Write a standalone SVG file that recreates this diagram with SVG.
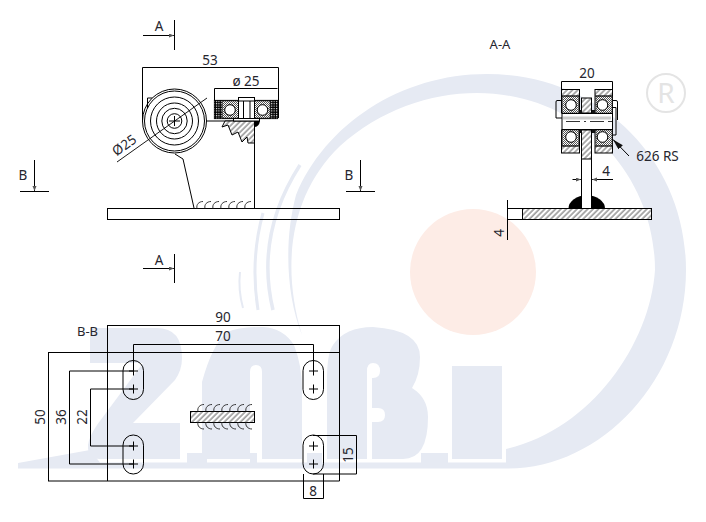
<svg xmlns="http://www.w3.org/2000/svg" width="706" height="522" viewBox="0 0 706 522">
<style>
.l{fill:none;stroke:#000;stroke-width:1}
.w{fill:#fff;stroke:#000;stroke-width:1}
.h{fill:url(#hatch);stroke:#000;stroke-width:1}
.s{fill:url(#stip);stroke:#333;stroke-width:.6}
text{font-family:"Noto Sans","Liberation Sans",sans-serif;font-size:13.500px;fill:#26262e;text-anchor:middle}
.bg{fill:#e6eaf3}
.arc{fill:none;stroke:#e6eaf3}
</style>
<defs>
<pattern id="hatch" width="3.800" height="3.800" patternUnits="userSpaceOnUse" patternTransform="rotate(45)"><rect width="3.800" height="3.800" fill="#fff"/><line x1="1" y1="0" x2="1" y2="3.800" stroke="#333" stroke-width=".8"/></pattern>
<pattern id="stip" width="2" height="2" patternUnits="userSpaceOnUse"><rect width="2" height="2" fill="#fff"/><rect width="1" height="1" fill="#555"/><rect x="1" y="1" width="1" height="1" fill="#555"/></pattern>
<pattern id="tire" width="2.400" height="2.400" patternUnits="userSpaceOnUse"><rect width="2.400" height="2.400" fill="#000"/><rect width="1.100" height="1.100" fill="#fff"/></pattern>
<marker id="a" markerWidth="6" markerHeight="6" refX="5" refY="2" orient="auto"><path d="M0,0L5,2L0,4Z" fill="#555"/></marker>
<marker id="big" markerWidth="12" markerHeight="8" refX="11" refY="3" orient="auto"><path d="M0,0L11,3L0,6Z" fill="#111"/></marker>
<path id="weld" d="M0,7C-1,3 2,0 6,0" fill="none" stroke="#222" stroke-width=".9"/>
</defs>

<g id="watermark">
<circle cx="473" cy="272" r="63" fill="#fdece6"/>
<path class="bg" d="M302,335C280,262 292,192 340,146C380,110 430,93 477,93C580,93 655,175 655,270C650,345 590,430 506,449V468.500C600,470 686,380 686,270C686,160 600,74 487,74C400,74 325,125 296,195C284,240 286,295 302,335Z"/>
<path class="bg" d="M18,463L90,450L100,462.500H506V468.500H18Z"/>
<path class="bg" d="M90,328H157Q182,328 182,358Q182,370 175,380L133,423H180V459H100Q87,459 88,445Q89,437 97,425L143,363H90Z"/>
<path class="bg" d="M202,459V382Q212,345 227,332Q240,327 263,327Q283,328 294,345Q302,365 302,390V459H262V372Q262,365 256,365Q250,365 250,372V459Z"/>
<path class="bg" d="M327,459V380Q327,353 333,345Q345,327 373,327Q420,330 420,357Q420,375 412,388Q428,398 428,417Q428,459 403,459H372V422H378Q385,422 385,415Q385,408 378,408H372V378H373Q380,378 380,371Q380,363 373,363Q367,363 367,371V459Z"/>
<rect class="bg" x="187" y="453" width="20" height="10"/>
<rect class="bg" x="250" y="453" width="7" height="10"/>
<rect class="bg" x="307" y="453" width="15" height="10"/>
<rect class="bg" x="421" y="453" width="27" height="10"/>
<rect class="bg" x="452" y="366" width="50" height="93"/>
<path class="arc" stroke-width="3.500" d="M300,165Q255,235 273,310"/>
<path class="arc" stroke-width="3" d="M263,213Q250,260 258,310"/>
<path class="arc" stroke-width="2" d="M240,272Q238,290 243,308"/>
<g id="registered"><circle cx="666" cy="93" r="19" fill="none" stroke="#e4e4e4" stroke-width="2"/><text x="666" y="103" style="font-size:28px;fill:#e4e4e4">R</text></g>
</g>

<g id="side-view">
<rect class="l" x="107.500" y="208.500" width="232" height="11"/>
<g class="l">
<circle cx="174.500" cy="121" r="32"/><circle cx="174.500" cy="121" r="30"/><circle cx="174.500" cy="121" r="24"/><circle cx="174.500" cy="121" r="18"/><circle cx="174.500" cy="121" r="12.700"/><circle cx="174.500" cy="121" r="7.300"/>
<path d="M147.500,108V98H152M175,154L183,159L194,208M207,121H233M254.500,127V208M169,121H180M174.500,116V126"/>
</g>
<path class="h" d="M225,121L222,127L228,125L232,135L238,132L242,142L247,137L248,143H254.500V121Z" stroke-width=".7"/>
<path d="M254,121H260Q259,127 254,127Z" fill="#000"/>
<g id="bearing">
<rect x="214.500" y="100.500" width="63" height="18" fill="#fff" stroke="#000" stroke-width="1.200"/>
<rect x="214.500" y="100.500" width="8" height="18" fill="url(#tire)"/>
<rect x="270" y="100.500" width="8" height="18" fill="url(#tire)"/>
<rect class="s" x="222.500" y="101" width="16" height="17"/><rect class="s" x="254.500" y="101" width="15.500" height="17"/>
<circle class="w" cx="230" cy="110" r="5.300"/><circle class="w" cx="262.500" cy="110" r="5.300"/>
<rect class="w" x="238.500" y="97.500" width="16" height="21"/>
<path class="l" d="M243.500,101V118M250,101V118M238.500,101H254.500"/>
<rect class="w" x="233.500" y="118.500" width="26" height="2.500"/>
</g>
<g id="weld-side"><use href="#weld" x="197" y="201.500"/><use href="#weld" x="205" y="201.500"/><use href="#weld" x="213" y="201.500"/><use href="#weld" x="221" y="201.500"/><use href="#weld" x="229" y="201.500"/><use href="#weld" x="237" y="201.500"/><use href="#weld" x="245" y="201.500"/></g>
</g>

<g id="section-aa">
<path d="M568.500,208.500A18,13 0 0 1 605,208.500Z" fill="#000"/>
<rect class="w" x="507.500" y="208.500" width="15" height="11"/>
<rect class="h" x="522.500" y="208.500" width="129" height="11"/>
<rect class="w" x="581.500" y="130" width="10" height="78.500"/>
<rect class="h" x="581.500" y="130" width="10" height="29"/>
<rect class="h" x="581.500" y="98" width="10" height="15"/>
<path class="l" d="M561.500,100.500H557Q556,100.500 556,102V118H562M612,100.500H616Q617.500,100.500 617.500,102V120" stroke-width=".8"/>
<g id="bearing-ul"><rect class="h" x="561.500" y="89.500" width="18" height="23.500"/><rect class="s" x="562.500" y="96" width="16" height="17"/><path class="l" d="M562,96H579"/><circle class="w" cx="571" cy="105" r="5.300"/></g>
<g id="bearing-ur"><rect class="h" x="595" y="89.500" width="17.500" height="23.500"/><rect class="s" x="596" y="96" width="16" height="17"/><path class="l" d="M595,96H612"/><circle class="w" cx="602.500" cy="105" r="5.300"/></g>
<g id="bearing-ll"><rect class="h" x="561.500" y="130" width="18" height="23"/><rect class="s" x="562.500" y="130" width="16" height="16"/><path class="l" d="M562,146H579"/><circle class="w" cx="571" cy="137" r="5.300"/></g>
<g id="bearing-lr"><rect class="h" x="595" y="130" width="17.500" height="23"/><rect class="s" x="596" y="130" width="16" height="16"/><path class="l" d="M595,146H612"/><circle class="w" cx="602.500" cy="137" r="5.300"/></g>
<rect class="w" x="562" y="113.500" width="50.500" height="16"/>
<path d="M563,118H611" stroke="#ccc" stroke-width="3"/>
<path class="l" d="M612,107.500H616V135H612" stroke-width=".8"/>
<path d="M566,121.500H580M584,121.500H586M590,121.500H604M608,121.500H613" stroke="#000" stroke-width=".8"/>
<g fill="#111"><rect x="579" y="110" width="3" height="3.500"/><rect x="592" y="110" width="3" height="3.500"/><rect x="579" y="129.500" width="3" height="3.500"/><rect x="592" y="129.500" width="3" height="3.500"/></g>
</g>

<g id="plan-bb">
<path class="l" d="M48,352.500H339.500M48,481H339.500"/>
<path class="l" d="M107.500,325V481M339.500,325V481"/>
<g id="slots" class="l">
<rect x="123" y="360.500" width="20.500" height="39" rx="10.200"/><rect x="123" y="435" width="20.500" height="39" rx="10.200"/>
<rect x="303" y="360.500" width="20.500" height="39" rx="10.200"/><rect x="303" y="435" width="20.500" height="39" rx="10.200"/>
<path d="M129,371H138M133.500,366.500V375.500M129,389H138M133.500,384.500V393.500M129,446H138M133.500,441.500V450.500M129,464H138M133.500,459.500V468.500"/>
<path d="M309,371H318M313.500,366.500V375.500M309,389H318M313.500,384.500V393.500M309,446H318M313.500,441.500V450.500M309,464H318M313.500,459.500V468.500"/>
</g>
<rect class="h" x="190.500" y="411.500" width="64" height="11"/>
<g id="weld-plan"><use href="#weld" x="198" y="404.500"/><use href="#weld" x="206" y="404.500"/><use href="#weld" x="214" y="404.500"/><use href="#weld" x="222" y="404.500"/><use href="#weld" x="230" y="404.500"/><use href="#weld" x="238" y="404.500"/><use href="#weld" x="246" y="404.500"/>
<use href="#weld" transform="translate(198,429) scale(1,-1)"/><use href="#weld" transform="translate(206,429) scale(1,-1)"/><use href="#weld" transform="translate(214,429) scale(1,-1)"/><use href="#weld" transform="translate(222,429) scale(1,-1)"/><use href="#weld" transform="translate(230,429) scale(1,-1)"/><use href="#weld" transform="translate(238,429) scale(1,-1)"/><use href="#weld" transform="translate(246,429) scale(1,-1)"/></g>
</g>

<g id="connectors">
<g class="l">
<path d="M174.500,20V50M174.500,254V283M20,191.500H49M346,191.500H375"/>
<path d="M143,35.500H174" marker-end="url(#a)"/><path d="M143,268.500H174" marker-end="url(#a)"/>
<path d="M34.500,160V191" marker-end="url(#a)"/><path d="M360.500,160V191" marker-end="url(#a)"/>
<path d="M142.500,120V67.500H278.500V118M214.500,100V88.500H277.500"/>
<path d="M117,162L207,98" stroke-width=".9"/>
<path d="M561.500,89V81.500H612.500V89"/>
<path d="M572.500,179.500H581" marker-end="url(#a)"/><path d="M613,179.500H592" marker-end="url(#a)"/>
<path d="M507.500,200V208M507.500,220V240"/>
<path d="M629,156L613,139.500" marker-end="url(#big)"/>
<path d="M107.500,325.500H339.500"/>
<path d="M133.500,371V344.500H313.500V371"/>
<path d="M48.500,352.500V481"/>
<path d="M133,371H69.500V464H133"/>
<path d="M133,389H90.500V446H133"/>
<path d="M313,435.500H356.500V474H313"/>
<path d="M303.500,474V498.500H323.500V474"/>
</g>
</g>

<g id="labels">
<text x="159" y="31">A</text><text x="159" y="265">A</text>
<text x="23" y="180">B</text><text x="349" y="180">B</text>
<text x="210" y="65">53</text><text x="246" y="86">ø 25</text>
<text transform="translate(127,149) rotate(-35)">Ø25</text>
<text x="500" y="49" style="font-size:13px">A-A</text>
<text x="587" y="78">20</text><text x="606" y="176">4</text>
<text transform="translate(504,233) rotate(-90)">4</text>
<text x="657.500" y="161">626 RS</text>
<text x="87.500" y="336" style="font-size:13px">B-B</text>
<text x="223" y="322">90</text><text x="223" y="341">70</text>
<text transform="translate(45,417) rotate(-90)">50</text>
<text transform="translate(66,417) rotate(-90)">36</text>
<text transform="translate(87,417) rotate(-90)">22</text>
<text transform="translate(353,455) rotate(-90)">15</text>
<text x="313" y="496">8</text>
</g>
</svg>
